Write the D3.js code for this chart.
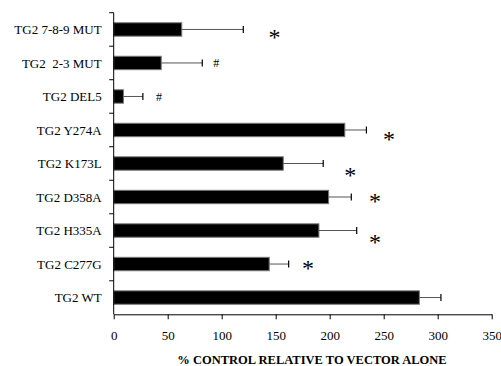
<!DOCTYPE html>
<html>
<head>
<meta charset="utf-8">
<script src="https://cdn.jsdelivr.net/npm/d3@7"></script>
<style>
  body { margin: 0; background: #fff; }
</style>
</head>
<body>
<div class="fig"></div>
<script>
// categories top to bottom
var labels = ["TG2 7-8-9 MUT", "TG2  2-3 MUT", "TG2 DEL5", "TG2 Y274A", "TG2 K173L",
              "TG2 D358A", "TG2 H335A", "TG2 C277G", "TG2 WT"];
var values = [63, 44, 9, 214, 157, 199, 190, 144, 283];
var errors = [57, 38, 18, 20, 37, 21, 35, 18, 20];
// significance marks and where they sit (x in data units)
var marks  = ["*", "#", "#", "*", "*", "*", "*", "*", ""];
var markX  = [149, 95, 42, 255, 219, 242, 242, 180, 0];
var markDy = [5, 0, 0, 7, 9, 2, 9, 2, 0];
var xTicks = [0, 50, 100, 150, 200, 250, 300, 350];

var serif = "'Liberation Serif', 'Times New Roman', Times, serif";

var svg = d3.select(".fig").append("svg")
    .attr("width", 501)
    .attr("height", 366);

var x = d3.scaleLinear().domain([0, 350]).range([113.7, 491.7]);
var y = d3.scaleBand().domain(labels).range([12.7, 314.3]).paddingInner(0.6).paddingOuter(0.3);

var rows = labels.map(function(l, i) {
  return { label: l, v: values[i], e: errors[i], m: marks[i], mx: markX[i], dy: markDy[i] };
});

// bars
svg.selectAll("rect.bar")
   .data(rows)
   .enter().append("rect")
   .attr("class", "bar")
   .attr("x", x(0))
   .attr("y", function(d) { return y(d.label); })
   .attr("width", function(d) { return x(d.v) - x(0); })
   .attr("height", y.bandwidth())
   .attr("fill", "#000")
   .attr("stroke", "#777")
   .attr("stroke-width", 1);

// error bars
var eb = svg.selectAll("g.err").data(rows).enter().append("g").attr("class", "err");
eb.append("line")
   .attr("x1", function(d) { return x(d.v); })
   .attr("x2", function(d) { return x(d.v + d.e); })
   .attr("y1", function(d) { return y(d.label) + y.bandwidth() / 2; })
   .attr("y2", function(d) { return y(d.label) + y.bandwidth() / 2; })
   .attr("stroke", "#555").attr("stroke-width", 1);
eb.append("line")
   .attr("x1", function(d) { return x(d.v + d.e); })
   .attr("x2", function(d) { return x(d.v + d.e); })
   .attr("y1", function(d) { return y(d.label) + y.bandwidth() / 2 - 3.5; })
   .attr("y2", function(d) { return y(d.label) + y.bandwidth() / 2 + 3.5; })
   .attr("stroke", "#000").attr("stroke-width", 1.2);

// significance marks
svg.selectAll("text.mark")
   .data(rows.filter(function(d) { return d.m; }))
   .enter().append("text")
   .attr("class", "mark")
   .attr("x", function(d) { return x(d.mx); })
   .attr("y", function(d) { return y(d.label) + y.bandwidth() / 2 + d.dy; })
   .attr("text-anchor", "middle")
   .attr("dy", function(d) { return d.m == "*" ? "0.42em" : "0.35em"; })
   .style("font-family", serif)
   .style("font-size", function(d) { return d.m == "*" ? "24px" : "12px"; })
   .text(function(d) { return d.m; });

// axes
var ya = svg.append("g")
    .attr("transform", "translate(" + x(0) + ",0)");
ya.append("line").attr("x1", 0).attr("x2", 0).attr("y1", 12.7).attr("y2", 314.3)
   .attr("stroke", "#000");
var bounds = d3.range(labels.length).map(function(i) { return y(labels[i]) - y.step() * y.paddingInner() / 2; });
ya.selectAll("line.tk").data(bounds).enter().append("line")
   .attr("class", "tk")
   .attr("x1", -4.5).attr("x2", 0)
   .attr("y1", function(d) { return d; }).attr("y2", function(d) { return d; })
   .attr("stroke", "#000");
ya.selectAll("text").data(labels).enter().append("text")
   .attr("x", -12)
   .attr("y", function(d) { return y(d) + y.bandwidth() / 2; })
   .attr("dy", "0.35em")
   .attr("text-anchor", "end")
   .style("font-family", serif)
   .style("font-size", "13px")
   .style("white-space", "pre")
   .text(function(d) { return d; });

var xa = svg.append("g")
    .attr("transform", "translate(0,314.3)")
    .call(d3.axisBottom(x).tickValues(xTicks).tickSizeInner(5).tickSizeOuter(0).tickPadding(11));
xa.select(".domain").attr("stroke", "#000");
xa.selectAll("text")
   .style("font-family", serif)
   .style("font-size", "13px")
   .attr("fill", "#000");

svg.append("text")
   .attr("x", 312)
   .attr("y", 364)
   .attr("text-anchor", "middle")
   .style("font-family", serif)
   .style("font-size", "12.5px")
   .style("font-weight", "bold")
   .text("% CONTROL RELATIVE TO VECTOR ALONE");
</script>
</body>
</html>
